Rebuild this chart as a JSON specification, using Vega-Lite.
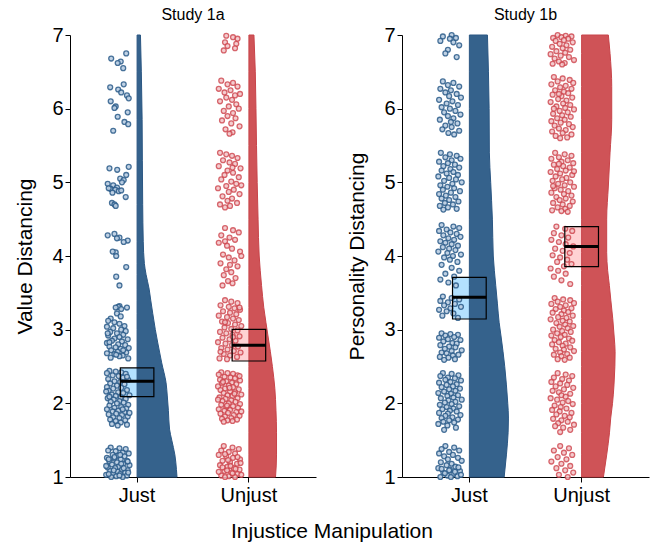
{
"$schema": "https://vega.github.io/schema/vega-lite/v6.json",
"padding": {"left": 14, "top": 7, "right": 2, "bottom": 5},
"background": "white",
"datasets": {
"box": [
{"s":"1a","g":"Just","lo":2.09,"hi":2.48,"m":2.30},
{"s":"1a","g":"Unjust","lo":2.575,"hi":3.005,"m":2.79},
{"s":"1b","g":"Just","lo":3.145,"hi":3.71,"m":3.44},
{"s":"1b","g":"Unjust","lo":3.855,"hi":4.40,"m":4.13}
],
"vio": [
{"s":"1a","g":"Just","v":1.0,"w":0.357},{"s":"1a","g":"Just","v":1.1,"w":0.352},{"s":"1a","g":"Just","v":1.3,"w":0.338},{"s":"1a","g":"Just","v":1.5,"w":0.31},{"s":"1a","g":"Just","v":1.65,"w":0.29},{"s":"1a","g":"Just","v":1.9,"w":0.28},{"s":"1a","g":"Just","v":2.1,"w":0.27},{"s":"1a","g":"Just","v":2.28,"w":0.259},{"s":"1a","g":"Just","v":2.55,"w":0.22},{"s":"1a","g":"Just","v":2.82,"w":0.185},{"s":"1a","g":"Just","v":3.0,"w":0.163},{"s":"1a","g":"Just","v":3.22,"w":0.14},{"s":"1a","g":"Just","v":3.4,"w":0.122},{"s":"1a","g":"Just","v":3.55,"w":0.108},{"s":"1a","g":"Just","v":3.75,"w":0.08},{"s":"1a","g":"Just","v":3.9,"w":0.065},{"s":"1a","g":"Just","v":4.2,"w":0.055},{"s":"1a","g":"Just","v":4.7,"w":0.05},{"s":"1a","g":"Just","v":5.3,"w":0.047},{"s":"1a","g":"Just","v":5.85,"w":0.045},{"s":"1a","g":"Just","v":6.5,"w":0.038},{"s":"1a","g":"Just","v":7.0,"w":0.03},
{"s":"1a","g":"Unjust","v":1.0,"w":0.238},{"s":"1a","g":"Unjust","v":1.3,"w":0.247},{"s":"1a","g":"Unjust","v":1.6,"w":0.247},{"s":"1a","g":"Unjust","v":1.9,"w":0.242},{"s":"1a","g":"Unjust","v":2.2,"w":0.232},{"s":"1a","g":"Unjust","v":2.5,"w":0.21},{"s":"1a","g":"Unjust","v":2.7,"w":0.192},{"s":"1a","g":"Unjust","v":2.9,"w":0.172},{"s":"1a","g":"Unjust","v":3.1,"w":0.152},{"s":"1a","g":"Unjust","v":3.3,"w":0.133},{"s":"1a","g":"Unjust","v":3.6,"w":0.113},{"s":"1a","g":"Unjust","v":4.0,"w":0.092},{"s":"1a","g":"Unjust","v":4.5,"w":0.082},{"s":"1a","g":"Unjust","v":5.0,"w":0.074},{"s":"1a","g":"Unjust","v":5.5,"w":0.068},{"s":"1a","g":"Unjust","v":6.0,"w":0.063},{"s":"1a","g":"Unjust","v":6.5,"w":0.057},{"s":"1a","g":"Unjust","v":7.0,"w":0.045},
{"s":"1b","g":"Just","v":1.0,"w":0.31},{"s":"1b","g":"Just","v":1.3,"w":0.33},{"s":"1b","g":"Just","v":1.6,"w":0.345},{"s":"1b","g":"Just","v":1.8,"w":0.348},{"s":"1b","g":"Just","v":2.0,"w":0.342},{"s":"1b","g":"Just","v":2.25,"w":0.33},{"s":"1b","g":"Just","v":2.5,"w":0.315},{"s":"1b","g":"Just","v":2.7,"w":0.3},{"s":"1b","g":"Just","v":2.9,"w":0.283},{"s":"1b","g":"Just","v":3.1,"w":0.265},{"s":"1b","g":"Just","v":3.35,"w":0.25},{"s":"1b","g":"Just","v":3.6,"w":0.235},{"s":"1b","g":"Just","v":4.0,"w":0.213},{"s":"1b","g":"Just","v":4.5,"w":0.205},{"s":"1b","g":"Just","v":5.0,"w":0.19},{"s":"1b","g":"Just","v":5.4,"w":0.178},{"s":"1b","g":"Just","v":6.0,"w":0.176},{"s":"1b","g":"Just","v":6.5,"w":0.17},{"s":"1b","g":"Just","v":7.0,"w":0.161},
{"s":"1b","g":"Unjust","v":1.0,"w":0.194},{"s":"1b","g":"Unjust","v":1.3,"w":0.223},{"s":"1b","g":"Unjust","v":1.6,"w":0.248},{"s":"1b","g":"Unjust","v":1.8,"w":0.259},{"s":"1b","g":"Unjust","v":2.0,"w":0.275},{"s":"1b","g":"Unjust","v":2.25,"w":0.288},{"s":"1b","g":"Unjust","v":2.5,"w":0.296},{"s":"1b","g":"Unjust","v":2.7,"w":0.298},{"s":"1b","g":"Unjust","v":2.9,"w":0.29},{"s":"1b","g":"Unjust","v":3.15,"w":0.277},{"s":"1b","g":"Unjust","v":3.4,"w":0.26},{"s":"1b","g":"Unjust","v":3.6,"w":0.247},{"s":"1b","g":"Unjust","v":3.8,"w":0.232},{"s":"1b","g":"Unjust","v":4.05,"w":0.223},{"s":"1b","g":"Unjust","v":4.5,"w":0.223},{"s":"1b","g":"Unjust","v":4.95,"w":0.238},{"s":"1b","g":"Unjust","v":5.4,"w":0.253},{"s":"1b","g":"Unjust","v":5.85,"w":0.268},{"s":"1b","g":"Unjust","v":6.3,"w":0.268},{"s":"1b","g":"Unjust","v":6.75,"w":0.253},{"s":"1b","g":"Unjust","v":7.0,"w":0.238}
],
"p1aJ": [
{"v":6.75,"j":0.82},{"v":6.68,"j":0.22},{"v":6.64,"j":0.60},{"v":6.62,"j":0.48},{"v":6.55,"j":0.70},
{"v":6.33,"j":0.72},{"v":6.29,"j":0.18},{"v":6.26,"j":0.50},{"v":6.22,"j":0.62},{"v":6.18,"j":0.85},{"v":6.14,"j":0.92},{"v":6.03,"j":0.40},{"v":6.01,"j":0.35},{"v":5.95,"j":0.88},{"v":5.89,"j":0.48},{"v":5.82,"j":0.75},{"v":5.79,"j":0.90},{"v":5.70,"j":0.30},{"v":6.10,"j":0.20},
{"v":5.19,"j":0.15},{"v":5.17,"j":0.46},{"v":5.21,"j":0.92},{"v":5.10,"j":0.82},{"v":5.05,"j":0.58},{"v":5.03,"j":0.72},{"v":4.98,"j":0.08},{"v":4.96,"j":0.30},{"v":4.93,"j":0.45},{"v":4.91,"j":0.20},{"v":4.90,"j":0.38},{"v":4.88,"j":0.52},{"v":4.86,"j":0.27},{"v":4.89,"j":0.62},{"v":4.80,"j":0.80},{"v":4.72,"j":0.25},{"v":4.70,"j":0.35},{"v":4.68,"j":0.40},{"v":4.92,"j":0.12},{"v":5.00,"j":0.65},
{"v":4.28,"j":0.08},{"v":4.30,"j":0.35},{"v":4.25,"j":0.55},{"v":4.21,"j":0.88},{"v":4.24,"j":0.45},{"v":4.19,"j":0.72},{"v":4.05,"j":0.40},{"v":4.06,"j":0.28},{"v":4.00,"j":0.42},{"v":3.85,"j":0.82},{"v":3.72,"j":0.42},{"v":3.60,"j":0.55},
{"v":3.32,"j":0.55},{"v":3.31,"j":0.50},{"v":3.30,"j":0.40},{"v":3.28,"j":0.62},{"v":3.30,"j":0.85},{"v":3.22,"j":0.45},{"v":3.15,"j":0.20},{"v":3.12,"j":0.10},{"v":3.10,"j":0.35},{"v":3.08,"j":0.55},{"v":3.05,"j":0.75},{"v":3.04,"j":0.05},{"v":3.02,"j":0.30},{"v":3.00,"j":0.62},{"v":2.98,"j":0.80},{"v":2.97,"j":0.18},{"v":2.95,"j":0.45},{"v":2.93,"j":0.70},{"v":2.92,"j":0.10},{"v":2.90,"j":0.55},{"v":2.88,"j":0.35},{"v":2.87,"j":0.88},{"v":2.85,"j":0.25},{"v":2.84,"j":0.65},{"v":2.82,"j":0.05},{"v":2.80,"j":0.50},{"v":2.79,"j":0.78},{"v":2.77,"j":0.15},{"v":2.76,"j":0.40},{"v":2.75,"j":0.92},{"v":2.74,"j":0.60},{"v":2.72,"j":0.22},{"v":2.70,"j":0.48},{"v":2.69,"j":0.82},{"v":2.68,"j":0.05},{"v":2.67,"j":0.35},{"v":2.65,"j":0.68},{"v":2.64,"j":0.55},{"v":2.62,"j":0.20},{"v":2.61,"j":0.90},{"v":2.72,"j":0.70},{"v":2.95,"j":0.08},{"v":3.18,"j":0.60},{"v":2.66,"j":0.42},{"v":2.83,"j":0.15},
{"v":2.44,"j":0.15},{"v":2.43,"j":0.40},{"v":2.42,"j":0.62},{"v":2.41,"j":0.05},{"v":2.40,"j":0.80},{"v":2.38,"j":0.28},{"v":2.37,"j":0.52},{"v":2.35,"j":0.70},{"v":2.33,"j":0.10},{"v":2.32,"j":0.90},{"v":2.30,"j":0.35},{"v":2.29,"j":0.58},{"v":2.27,"j":0.18},{"v":2.26,"j":0.75},{"v":2.24,"j":0.45},{"v":2.22,"j":0.05},{"v":2.21,"j":0.62},{"v":2.20,"j":0.30},{"v":2.18,"j":0.85},{"v":2.17,"j":0.12},{"v":2.15,"j":0.50},{"v":2.14,"j":0.70},{"v":2.12,"j":0.25},{"v":2.11,"j":0.95},{"v":2.10,"j":0.40},{"v":2.08,"j":0.60},{"v":2.07,"j":0.08},{"v":2.06,"j":0.80},{"v":2.05,"j":0.32},{"v":2.03,"j":0.55},{"v":2.02,"j":0.20},{"v":2.01,"j":0.72},{"v":2.00,"j":0.45},{"v":1.98,"j":0.90},{"v":1.97,"j":0.15},{"v":1.95,"j":0.62},{"v":1.94,"j":0.35},{"v":1.93,"j":0.82},{"v":1.92,"j":0.05},{"v":1.90,"j":0.50},{"v":1.89,"j":0.28},{"v":1.88,"j":0.75},{"v":1.86,"j":0.42},{"v":1.85,"j":0.12},{"v":1.84,"j":0.65},{"v":1.82,"j":0.88},{"v":1.81,"j":0.30},{"v":1.80,"j":0.55},{"v":1.78,"j":0.18},{"v":1.77,"j":0.78},{"v":1.76,"j":0.40},{"v":1.74,"j":0.60},{"v":1.72,"j":0.25},{"v":1.71,"j":0.85},{"v":1.70,"j":0.48},{"v":1.92,"j":0.68},{"v":2.36,"j":0.85},{"v":2.16,"j":0.02},{"v":1.87,"j":0.95},{"v":2.09,"j":0.15},
{"v":1.40,"j":0.20},{"v":1.39,"j":0.55},{"v":1.38,"j":0.80},{"v":1.36,"j":0.10},{"v":1.35,"j":0.40},{"v":1.33,"j":0.68},{"v":1.32,"j":0.92},{"v":1.30,"j":0.28},{"v":1.29,"j":0.50},{"v":1.28,"j":0.75},{"v":1.26,"j":0.05},{"v":1.25,"j":0.35},{"v":1.24,"j":0.60},{"v":1.22,"j":0.85},{"v":1.21,"j":0.15},{"v":1.20,"j":0.45},{"v":1.18,"j":0.70},{"v":1.17,"j":0.25},{"v":1.16,"j":0.95},{"v":1.14,"j":0.52},{"v":1.13,"j":0.08},{"v":1.12,"j":0.38},{"v":1.10,"j":0.65},{"v":1.09,"j":0.88},{"v":1.08,"j":0.18},{"v":1.07,"j":0.48},{"v":1.06,"j":0.78},{"v":1.05,"j":0.30},{"v":1.04,"j":0.58},{"v":1.03,"j":0.02},{"v":1.02,"j":0.85},{"v":1.01,"j":0.42},{"v":1.00,"j":0.22},{"v":1.00,"j":0.68},{"v":1.02,"j":0.55},{"v":1.04,"j":0.12},{"v":1.06,"j":0.90},{"v":1.09,"j":0.32},{"v":1.12,"j":0.72},{"v":1.15,"j":0.02},{"v":1.18,"j":0.62},{"v":1.21,"j":0.88},{"v":1.24,"j":0.12},{"v":1.27,"j":0.35},{"v":1.30,"j":0.58}
],
"p1aU": [
{"v":6.99,"j":0.35},{"v":6.97,"j":0.62},{"v":6.95,"j":0.80},{"v":6.90,"j":0.30},{"v":6.88,"j":0.75},{"v":6.85,"j":0.40},{"v":6.82,"j":0.70},{"v":6.79,"j":0.25},
{"v":6.38,"j":0.15},{"v":6.35,"j":0.62},{"v":6.33,"j":0.40},{"v":6.30,"j":0.80},{"v":6.27,"j":0.05},{"v":6.25,"j":0.52},{"v":6.22,"j":0.28},{"v":6.20,"j":0.90},{"v":6.18,"j":0.70},{"v":6.15,"j":0.35},{"v":6.12,"j":0.58},{"v":6.10,"j":0.10},{"v":6.06,"j":0.75},{"v":6.03,"j":0.45},{"v":6.00,"j":0.85},{"v":5.97,"j":0.25},{"v":5.94,"j":0.62},{"v":5.90,"j":0.40},{"v":5.87,"j":0.72},{"v":5.84,"j":0.18},{"v":5.80,"j":0.55},{"v":5.76,"j":0.88},{"v":5.72,"j":0.32},{"v":5.68,"j":0.60},{"v":5.66,"j":0.48},
{"v":5.40,"j":0.10},{"v":5.38,"j":0.35},{"v":5.36,"j":0.58},{"v":5.33,"j":0.80},{"v":5.30,"j":0.22},{"v":5.27,"j":0.48},{"v":5.25,"j":0.70},{"v":5.22,"j":0.05},{"v":5.19,"j":0.92},{"v":5.16,"j":0.40},{"v":5.13,"j":0.62},{"v":5.10,"j":0.28},{"v":5.07,"j":0.85},{"v":5.04,"j":0.15},{"v":5.01,"j":0.55},{"v":4.98,"j":0.75},{"v":4.95,"j":0.35},{"v":4.92,"j":0.02},{"v":4.90,"j":0.65},{"v":4.87,"j":0.45},{"v":4.84,"j":0.88},{"v":4.81,"j":0.20},{"v":4.78,"j":0.58},{"v":4.75,"j":0.40},{"v":4.72,"j":0.78},{"v":4.70,"j":0.10},{"v":4.68,"j":0.50},{"v":4.66,"j":0.30},{"v":4.96,"j":0.95},{"v":5.20,"j":0.60},
{"v":4.38,"j":0.30},{"v":4.35,"j":0.62},{"v":4.32,"j":0.85},{"v":4.28,"j":0.15},{"v":4.25,"j":0.48},{"v":4.22,"j":0.70},{"v":4.18,"j":0.05},{"v":4.14,"j":0.38},{"v":4.10,"j":0.58},{"v":4.06,"j":0.90},{"v":4.02,"j":0.22},{"v":3.98,"j":0.45},{"v":3.94,"j":0.68},{"v":3.90,"j":0.12},{"v":3.86,"j":0.80},{"v":3.82,"j":0.35},{"v":3.78,"j":0.55},{"v":3.74,"j":0.25},{"v":3.70,"j":0.72},{"v":3.66,"j":0.42},{"v":3.63,"j":0.60},{"v":3.60,"j":0.20},{"v":4.00,"j":0.95},{"v":4.20,"j":0.30},{"v":3.88,"j":0.50},
{"v":3.40,"j":0.30},{"v":3.38,"j":0.55},{"v":3.36,"j":0.80},{"v":3.33,"j":0.12},{"v":3.31,"j":0.45},{"v":3.29,"j":0.68},{"v":3.27,"j":0.90},{"v":3.25,"j":0.22},{"v":3.23,"j":0.50},{"v":3.21,"j":0.75},{"v":3.19,"j":0.05},{"v":3.17,"j":0.38},{"v":3.15,"j":0.62},{"v":3.13,"j":0.85},{"v":3.11,"j":0.18},{"v":3.09,"j":0.42},{"v":3.07,"j":0.70},{"v":3.05,"j":0.95},{"v":3.03,"j":0.28},{"v":3.01,"j":0.55},{"v":2.99,"j":0.80},{"v":2.97,"j":0.10},{"v":2.95,"j":0.35},{"v":2.93,"j":0.60},{"v":2.91,"j":0.88},{"v":2.89,"j":0.20},{"v":2.87,"j":0.48},{"v":2.85,"j":0.72},{"v":2.83,"j":0.02},{"v":2.81,"j":0.32},{"v":2.79,"j":0.58},{"v":2.77,"j":0.82},{"v":2.75,"j":0.15},{"v":2.73,"j":0.40},{"v":2.71,"j":0.65},{"v":2.69,"j":0.92},{"v":2.67,"j":0.25},{"v":2.65,"j":0.50},{"v":2.63,"j":0.78},{"v":2.61,"j":0.08},{"v":2.60,"j":0.38},{"v":2.70,"j":0.12},{"v":2.90,"j":0.62},{"v":3.10,"j":0.30},{"v":3.30,"j":0.88},
{"v":2.42,"j":0.15},{"v":2.41,"j":0.40},{"v":2.40,"j":0.62},{"v":2.39,"j":0.05},{"v":2.38,"j":0.80},{"v":2.36,"j":0.28},{"v":2.35,"j":0.52},{"v":2.34,"j":0.70},{"v":2.32,"j":0.10},{"v":2.31,"j":0.90},{"v":2.30,"j":0.35},{"v":2.28,"j":0.58},{"v":2.27,"j":0.18},{"v":2.26,"j":0.75},{"v":2.24,"j":0.45},{"v":2.23,"j":0.02},{"v":2.22,"j":0.62},{"v":2.20,"j":0.30},{"v":2.19,"j":0.85},{"v":2.18,"j":0.12},{"v":2.16,"j":0.50},{"v":2.15,"j":0.70},{"v":2.14,"j":0.25},{"v":2.12,"j":0.95},{"v":2.11,"j":0.40},{"v":2.10,"j":0.60},{"v":2.08,"j":0.08},{"v":2.07,"j":0.80},{"v":2.06,"j":0.32},{"v":2.04,"j":0.55},{"v":2.03,"j":0.20},{"v":2.02,"j":0.72},{"v":2.00,"j":0.45},{"v":1.99,"j":0.90},{"v":1.98,"j":0.15},{"v":1.96,"j":0.62},{"v":1.95,"j":0.35},{"v":1.94,"j":0.82},{"v":1.92,"j":0.05},{"v":1.91,"j":0.50},{"v":1.90,"j":0.28},{"v":1.88,"j":0.75},{"v":1.87,"j":0.42},{"v":1.86,"j":0.12},{"v":1.84,"j":0.65},{"v":1.83,"j":0.88},{"v":1.82,"j":0.30},{"v":1.80,"j":0.55},{"v":1.79,"j":0.18},{"v":1.78,"j":0.78},{"v":1.77,"j":0.40},{"v":1.76,"j":0.60},{"v":1.75,"j":0.25},{"v":2.37,"j":0.88},{"v":2.21,"j":0.48},{"v":2.05,"j":0.02},{"v":1.89,"j":0.95},{"v":2.13,"j":0.68},{"v":2.29,"j":0.22},{"v":1.97,"j":0.38},
{"v":1.42,"j":0.25},{"v":1.40,"j":0.60},{"v":1.38,"j":0.85},{"v":1.36,"j":0.15},{"v":1.34,"j":0.45},{"v":1.32,"j":0.70},{"v":1.30,"j":0.05},{"v":1.28,"j":0.35},{"v":1.26,"j":0.62},{"v":1.24,"j":0.90},{"v":1.22,"j":0.20},{"v":1.20,"j":0.50},{"v":1.18,"j":0.78},{"v":1.16,"j":0.10},{"v":1.14,"j":0.40},{"v":1.12,"j":0.65},{"v":1.10,"j":0.88},{"v":1.08,"j":0.28},{"v":1.06,"j":0.55},{"v":1.04,"j":0.80},{"v":1.02,"j":0.15},{"v":1.01,"j":0.45},{"v":1.00,"j":0.70},{"v":1.00,"j":0.30},{"v":1.03,"j":0.95},{"v":1.05,"j":0.60},{"v":1.07,"j":0.05},{"v":1.09,"j":0.38},{"v":1.11,"j":0.72},{"v":1.13,"j":0.20},{"v":1.15,"j":0.52},{"v":1.19,"j":0.92},{"v":1.23,"j":0.42},{"v":1.27,"j":0.80},{"v":1.31,"j":0.30}
],
"p1bJ": [
{"v":7.00,"j":0.55},{"v":6.98,"j":0.20},{"v":6.96,"j":0.72},{"v":6.95,"j":0.48},{"v":6.92,"j":0.10},{"v":6.90,"j":0.62},{"v":6.86,"j":0.85},{"v":6.80,"j":0.40},{"v":6.75,"j":0.30},{"v":6.70,"j":0.75},
{"v":6.37,"j":0.20},{"v":6.35,"j":0.62},{"v":6.32,"j":0.40},{"v":6.30,"j":0.85},{"v":6.27,"j":0.10},{"v":6.25,"j":0.52},{"v":6.22,"j":0.30},{"v":6.20,"j":0.75},{"v":6.17,"j":0.45},{"v":6.15,"j":0.92},{"v":6.12,"j":0.05},{"v":6.10,"j":0.58},{"v":6.07,"j":0.35},{"v":6.05,"j":0.80},{"v":6.02,"j":0.15},{"v":6.00,"j":0.48},{"v":5.97,"j":0.70},{"v":5.95,"j":0.25},{"v":5.92,"j":0.90},{"v":5.90,"j":0.40},{"v":5.87,"j":0.62},{"v":5.85,"j":0.08},{"v":5.82,"j":0.52},{"v":5.80,"j":0.78},{"v":5.77,"j":0.30},{"v":5.75,"j":0.55},{"v":5.72,"j":0.18},{"v":5.70,"j":0.85},{"v":5.67,"j":0.42},{"v":5.65,"j":0.65},
{"v":5.40,"j":0.12},{"v":5.38,"j":0.48},{"v":5.36,"j":0.75},{"v":5.34,"j":0.30},{"v":5.32,"j":0.90},{"v":5.30,"j":0.55},{"v":5.28,"j":0.05},{"v":5.26,"j":0.40},{"v":5.24,"j":0.68},{"v":5.22,"j":0.22},{"v":5.20,"j":0.85},{"v":5.18,"j":0.50},{"v":5.16,"j":0.15},{"v":5.14,"j":0.62},{"v":5.12,"j":0.35},{"v":5.10,"j":0.80},{"v":5.08,"j":0.02},{"v":5.06,"j":0.45},{"v":5.04,"j":0.72},{"v":5.02,"j":0.25},{"v":5.00,"j":0.95},{"v":4.98,"j":0.58},{"v":4.96,"j":0.10},{"v":4.94,"j":0.38},{"v":4.92,"j":0.65},{"v":4.90,"j":0.20},{"v":4.88,"j":0.88},{"v":4.86,"j":0.52},{"v":4.84,"j":0.05},{"v":4.82,"j":0.32},{"v":4.80,"j":0.70},{"v":4.78,"j":0.15},{"v":4.76,"j":0.45},{"v":4.74,"j":0.82},{"v":4.72,"j":0.28},{"v":4.70,"j":0.60},{"v":4.68,"j":0.08},{"v":4.66,"j":0.40},{"v":4.64,"j":0.75},{"v":4.63,"j":0.22},
{"v":4.42,"j":0.15},{"v":4.40,"j":0.62},{"v":4.38,"j":0.85},{"v":4.36,"j":0.35},{"v":4.34,"j":0.05},{"v":4.32,"j":0.50},{"v":4.30,"j":0.75},{"v":4.28,"j":0.22},{"v":4.26,"j":0.90},{"v":4.24,"j":0.42},{"v":4.22,"j":0.65},{"v":4.20,"j":0.10},{"v":4.18,"j":0.30},{"v":4.16,"j":0.55},{"v":4.14,"j":0.80},{"v":4.12,"j":0.20},{"v":4.10,"j":0.45},{"v":4.08,"j":0.70},{"v":4.06,"j":0.02},{"v":4.04,"j":0.38},{"v":4.02,"j":0.92},{"v":4.00,"j":0.60},{"v":3.98,"j":0.25},{"v":3.95,"j":0.48},{"v":3.92,"j":0.78},
{"v":3.88,"j":0.15},{"v":3.84,"j":0.55},{"v":3.80,"j":0.85},{"v":3.76,"j":0.30},{"v":3.72,"j":0.65},{"v":3.68,"j":0.10},{"v":3.64,"j":0.42},{"v":3.60,"j":0.72},
{"v":3.45,"j":0.20},{"v":3.43,"j":0.55},{"v":3.41,"j":0.85},{"v":3.39,"j":0.10},{"v":3.37,"j":0.40},{"v":3.35,"j":0.68},{"v":3.33,"j":0.25},{"v":3.31,"j":0.92},{"v":3.29,"j":0.50},{"v":3.27,"j":0.05},{"v":3.25,"j":0.35},{"v":3.22,"j":0.62},{"v":3.19,"j":0.18},{"v":3.16,"j":0.80},
{"v":2.95,"j":0.15},{"v":2.94,"j":0.50},{"v":2.93,"j":0.80},{"v":2.92,"j":0.30},{"v":2.90,"j":0.65},{"v":2.89,"j":0.05},{"v":2.87,"j":0.40},{"v":2.86,"j":0.90},{"v":2.84,"j":0.22},{"v":2.82,"j":0.58},{"v":2.81,"j":0.75},{"v":2.79,"j":0.10},{"v":2.77,"j":0.45},{"v":2.76,"j":0.70},{"v":2.74,"j":0.28},{"v":2.72,"j":0.95},{"v":2.71,"j":0.55},{"v":2.69,"j":0.15},{"v":2.68,"j":0.35},{"v":2.66,"j":0.82},{"v":2.65,"j":0.60},{"v":2.63,"j":0.08},{"v":2.62,"j":0.42},{"v":2.60,"j":0.68},{"v":2.59,"j":0.25},
{"v":2.41,"j":0.20},{"v":2.40,"j":0.55},{"v":2.38,"j":0.82},{"v":2.37,"j":0.10},{"v":2.35,"j":0.40},{"v":2.34,"j":0.68},{"v":2.32,"j":0.30},{"v":2.31,"j":0.92},{"v":2.29,"j":0.50},{"v":2.28,"j":0.05},{"v":2.26,"j":0.75},{"v":2.25,"j":0.35},{"v":2.23,"j":0.60},{"v":2.22,"j":0.15},{"v":2.20,"j":0.88},{"v":2.19,"j":0.45},{"v":2.17,"j":0.70},{"v":2.16,"j":0.25},{"v":2.14,"j":0.02},{"v":2.13,"j":0.52},{"v":2.11,"j":0.80},{"v":2.10,"j":0.38},{"v":2.08,"j":0.62},{"v":2.07,"j":0.12},{"v":2.05,"j":0.95},{"v":2.04,"j":0.42},{"v":2.02,"j":0.70},{"v":2.01,"j":0.28},{"v":1.99,"j":0.55},{"v":1.98,"j":0.08},{"v":1.96,"j":0.85},{"v":1.95,"j":0.35},{"v":1.93,"j":0.62},{"v":1.92,"j":0.18},{"v":1.90,"j":0.48},{"v":1.89,"j":0.75},{"v":1.87,"j":0.05},{"v":1.86,"j":0.40},{"v":1.84,"j":0.90},{"v":1.83,"j":0.30},{"v":1.81,"j":0.58},{"v":1.80,"j":0.15},{"v":1.78,"j":0.80},{"v":1.77,"j":0.45},{"v":1.75,"j":0.22},{"v":1.74,"j":0.65},{"v":1.72,"j":0.02},{"v":1.70,"j":0.38},{"v":1.67,"j":0.72},{"v":1.64,"j":0.25},
{"v":1.42,"j":0.30},{"v":1.40,"j":0.65},{"v":1.38,"j":0.15},{"v":1.36,"j":0.85},{"v":1.34,"j":0.45},{"v":1.32,"j":0.05},{"v":1.30,"j":0.60},{"v":1.28,"j":0.25},{"v":1.26,"j":0.80},{"v":1.24,"j":0.40},{"v":1.22,"j":0.95},{"v":1.20,"j":0.12},{"v":1.18,"j":0.55},{"v":1.16,"j":0.35},{"v":1.14,"j":0.70},{"v":1.12,"j":0.02},{"v":1.10,"j":0.48},{"v":1.08,"j":0.88},{"v":1.06,"j":0.22},{"v":1.04,"j":0.62},{"v":1.02,"j":0.38},{"v":1.01,"j":0.78},{"v":1.00,"j":0.10},{"v":1.00,"j":0.52},{"v":1.03,"j":0.92},{"v":1.05,"j":0.28},{"v":1.07,"j":0.68},{"v":1.09,"j":0.45},{"v":1.11,"j":0.15},{"v":1.13,"j":0.82}
],
"p1bU": [
{"v":7.00,"j":0.30},{"v":6.99,"j":0.62},{"v":6.98,"j":0.85},{"v":6.97,"j":0.45},{"v":6.96,"j":0.12},{"v":6.95,"j":0.72},{"v":6.93,"j":0.55},{"v":6.92,"j":0.22},{"v":6.90,"j":0.90},{"v":6.88,"j":0.38},{"v":6.86,"j":0.65},{"v":6.84,"j":0.08},{"v":6.82,"j":0.50},{"v":6.80,"j":0.80},{"v":6.78,"j":0.25},{"v":6.76,"j":0.60},{"v":6.74,"j":0.02},{"v":6.72,"j":0.42},{"v":6.70,"j":0.75},{"v":6.68,"j":0.18},{"v":6.66,"j":0.95},{"v":6.64,"j":0.35},{"v":6.62,"j":0.58},{"v":6.61,"j":0.10},{"v":6.60,"j":0.48},
{"v":6.43,"j":0.15},{"v":6.41,"j":0.50},{"v":6.39,"j":0.78},{"v":6.37,"j":0.30},{"v":6.35,"j":0.92},{"v":6.33,"j":0.05},{"v":6.31,"j":0.62},{"v":6.29,"j":0.40},{"v":6.27,"j":0.85},{"v":6.25,"j":0.20},{"v":6.23,"j":0.55},{"v":6.21,"j":0.72},{"v":6.19,"j":0.10},{"v":6.17,"j":0.45},{"v":6.15,"j":0.88},{"v":6.13,"j":0.32},{"v":6.11,"j":0.65},{"v":6.09,"j":0.02},{"v":6.07,"j":0.52},{"v":6.05,"j":0.80},{"v":6.03,"j":0.25},{"v":6.01,"j":0.60},{"v":5.99,"j":0.95},{"v":5.97,"j":0.38},{"v":5.95,"j":0.70},{"v":5.93,"j":0.12},{"v":5.91,"j":0.48},{"v":5.89,"j":0.82},{"v":5.87,"j":0.28},{"v":5.85,"j":0.58},{"v":5.83,"j":0.05},{"v":5.81,"j":0.42},{"v":5.79,"j":0.75},{"v":5.77,"j":0.18},{"v":5.75,"j":0.90},{"v":5.73,"j":0.35},{"v":5.71,"j":0.62},{"v":5.69,"j":0.08},{"v":5.67,"j":0.50},{"v":5.65,"j":0.85},{"v":5.63,"j":0.22},{"v":5.61,"j":0.68},{"v":5.60,"j":0.40},{"v":6.00,"j":0.15},{"v":6.20,"j":0.35},
{"v":5.40,"j":0.20},{"v":5.38,"j":0.58},{"v":5.36,"j":0.85},{"v":5.34,"j":0.35},{"v":5.32,"j":0.05},{"v":5.30,"j":0.70},{"v":5.28,"j":0.45},{"v":5.26,"j":0.92},{"v":5.24,"j":0.15},{"v":5.22,"j":0.52},{"v":5.20,"j":0.78},{"v":5.18,"j":0.28},{"v":5.16,"j":0.62},{"v":5.14,"j":0.02},{"v":5.12,"j":0.40},{"v":5.10,"j":0.88},{"v":5.08,"j":0.22},{"v":5.06,"j":0.65},{"v":5.04,"j":0.48},{"v":5.02,"j":0.10},{"v":5.00,"j":0.80},{"v":4.98,"j":0.32},{"v":4.96,"j":0.58},{"v":4.94,"j":0.95},{"v":4.92,"j":0.18},{"v":4.90,"j":0.42},{"v":4.88,"j":0.72},{"v":4.86,"j":0.05},{"v":4.84,"j":0.55},{"v":4.82,"j":0.85},{"v":4.80,"j":0.25},{"v":4.78,"j":0.62},{"v":4.76,"j":0.38},{"v":4.74,"j":0.90},{"v":4.72,"j":0.12},{"v":4.70,"j":0.50},{"v":4.68,"j":0.78},{"v":4.66,"j":0.30},{"v":4.64,"j":0.60},{"v":4.62,"j":0.08},{"v":4.61,"j":0.45},{"v":4.60,"j":0.70},{"v":5.15,"j":0.95},{"v":4.95,"j":0.12},{"v":5.25,"j":0.35},
{"v":4.40,"j":0.25},{"v":4.37,"j":0.60},{"v":4.34,"j":0.88},{"v":4.31,"j":0.15},{"v":4.28,"j":0.45},{"v":4.25,"j":0.72},{"v":4.22,"j":0.05},{"v":4.19,"j":0.35},{"v":4.16,"j":0.62},{"v":4.13,"j":0.92},{"v":4.10,"j":0.20},{"v":4.07,"j":0.50},{"v":4.04,"j":0.78},{"v":4.01,"j":0.10},{"v":3.98,"j":0.40},{"v":3.95,"j":0.68},{"v":3.92,"j":0.28},{"v":3.89,"j":0.85},{"v":3.86,"j":0.55},{"v":3.83,"j":0.02},{"v":3.80,"j":0.32},{"v":3.76,"j":0.62},{"v":3.72,"j":0.15},{"v":3.67,"j":0.45},{"v":3.62,"j":0.80},
{"v":3.43,"j":0.18},{"v":3.41,"j":0.52},{"v":3.40,"j":0.80},{"v":3.38,"j":0.30},{"v":3.36,"j":0.95},{"v":3.35,"j":0.05},{"v":3.33,"j":0.62},{"v":3.31,"j":0.40},{"v":3.29,"j":0.85},{"v":3.28,"j":0.22},{"v":3.26,"j":0.55},{"v":3.24,"j":0.72},{"v":3.23,"j":0.10},{"v":3.21,"j":0.45},{"v":3.19,"j":0.90},{"v":3.17,"j":0.32},{"v":3.16,"j":0.65},{"v":3.14,"j":0.02},{"v":3.12,"j":0.50},{"v":3.11,"j":0.78},{"v":3.09,"j":0.25},{"v":3.07,"j":0.60},{"v":3.05,"j":0.92},{"v":3.04,"j":0.38},{"v":3.02,"j":0.70},{"v":3.00,"j":0.12},{"v":2.98,"j":0.48},{"v":2.97,"j":0.82},{"v":2.95,"j":0.28},{"v":2.93,"j":0.58},{"v":2.92,"j":0.05},{"v":2.90,"j":0.42},{"v":2.88,"j":0.75},{"v":2.86,"j":0.18},{"v":2.85,"j":0.88},{"v":2.83,"j":0.35},{"v":2.81,"j":0.62},{"v":2.80,"j":0.08},{"v":2.78,"j":0.50},{"v":2.76,"j":0.80},{"v":2.74,"j":0.22},{"v":2.73,"j":0.55},{"v":2.71,"j":0.95},{"v":2.69,"j":0.40},{"v":2.67,"j":0.68},{"v":2.66,"j":0.15},{"v":2.64,"j":0.45},{"v":2.62,"j":0.78},{"v":2.60,"j":0.30},{"v":2.59,"j":0.58},
{"v":2.41,"j":0.30},{"v":2.39,"j":0.62},{"v":2.37,"j":0.88},{"v":2.35,"j":0.15},{"v":2.33,"j":0.48},{"v":2.31,"j":0.75},{"v":2.29,"j":0.05},{"v":2.27,"j":0.40},{"v":2.25,"j":0.68},{"v":2.23,"j":0.22},{"v":2.21,"j":0.92},{"v":2.19,"j":0.55},{"v":2.17,"j":0.10},{"v":2.15,"j":0.35},{"v":2.13,"j":0.80},{"v":2.11,"j":0.45},{"v":2.09,"j":0.62},{"v":2.07,"j":0.02},{"v":2.05,"j":0.28},{"v":2.03,"j":0.72},{"v":2.01,"j":0.50},{"v":1.99,"j":0.90},{"v":1.97,"j":0.18},{"v":1.95,"j":0.42},{"v":1.93,"j":0.65},{"v":1.91,"j":0.08},{"v":1.89,"j":0.38},{"v":1.87,"j":0.85},{"v":1.85,"j":0.25},{"v":1.83,"j":0.58},{"v":1.81,"j":0.78},{"v":1.79,"j":0.12},{"v":1.77,"j":0.45},{"v":1.75,"j":0.70},{"v":1.73,"j":0.32},{"v":1.71,"j":0.95},{"v":1.69,"j":0.20},{"v":1.67,"j":0.52},{"v":1.64,"j":0.80},{"v":1.61,"j":0.40},
{"v":1.42,"j":0.40},{"v":1.39,"j":0.75},{"v":1.36,"j":0.15},{"v":1.33,"j":0.55},{"v":1.30,"j":0.88},{"v":1.27,"j":0.30},{"v":1.24,"j":0.65},{"v":1.21,"j":0.05},{"v":1.18,"j":0.45},{"v":1.15,"j":0.80},{"v":1.12,"j":0.25},{"v":1.09,"j":0.60},{"v":1.06,"j":0.92},{"v":1.03,"j":0.35},{"v":1.00,"j":0.70}
]
},
"title": {"text": "Injustice Manipulation", "orient": "bottom", "anchor": "middle", "fontSize": 21, "fontWeight": "normal", "offset": 16},
"spacing": 30,
"resolve": {"scale": {"x": "independent", "y": "independent", "xOffset": "independent"}},
"hconcat": [
{
"width": 246, "height": 442,
"title": {"text": "Study 1a", "fontSize": 16, "fontWeight": "normal", "offset": 2},
"resolve": {"scale": {"x": "independent", "xOffset": "independent"}},
"layer": [
{"data": {"name": "box"}, "transform": [{"filter": "datum.s === '1a'"}],
 "mark": {"type": "bar", "width": {"band": 0.3}, "strokeWidth": 0},
 "encoding": {
  "x": {"field": "g", "type": "nominal", "scale": {"type": "band", "domain": ["Just","Unjust"], "paddingInner": 0, "paddingOuter": 0.1}, "axis": null},
  "y": {"field": "lo", "type": "quantitative", "title": "Value Distancing", "scale": {"domain": [1,7], "nice": false, "zero": false}, "axis": {"values": [1,2,3,4,5,6,7]}},
  "y2": {"field": "hi"},
  "fill": {"condition": {"test": "datum.g === 'Just'", "value": "#b3e1ff"}, "value": "#ffd2d3"}}},
{"data": {"name": "p1aJ"},
 "mark": {"type": "point", "filled": true, "size": 24, "fill": "#b9cde2", "stroke": "#33628f", "strokeWidth": 1.3, "opacity": 0.9},
 "encoding": {
  "x": {"datum": "Just", "type": "nominal", "scale": {"type": "band", "domain": ["Just","Unjust"], "paddingInner": 0, "paddingOuter": 0.1}, "axis": {"title": null, "labelAngle": 0}},
  "xOffset": {"field": "j", "type": "quantitative", "scale": {"domain": [-0.98, 3.49]}},
  "y": {"field": "v", "type": "quantitative", "title": "Value Distancing", "scale": {"domain": [1,7], "nice": false, "zero": false}, "axis": {"values": [1,2,3,4,5,6,7]}}}},
{"data": {"name": "p1aU"},
 "mark": {"type": "point", "filled": true, "size": 24, "fill": "#f3c4c7", "stroke": "#d04a52", "strokeWidth": 1.3, "opacity": 0.85},
 "encoding": {
  "x": {"datum": "Unjust", "type": "nominal", "scale": {"type": "band", "domain": ["Just","Unjust"], "paddingInner": 0, "paddingOuter": 0.1}, "axis": null},
  "xOffset": {"field": "j", "type": "quantitative", "scale": {"domain": [-0.98, 3.49]}},
  "y": {"field": "v", "type": "quantitative", "title": "Value Distancing", "scale": {"domain": [1,7], "nice": false, "zero": false}, "axis": {"values": [1,2,3,4,5,6,7]}}}},
{"data": {"name": "vio"}, "transform": [{"filter": "datum.s === '1a' && datum.g === 'Just'"}],
 "mark": {"type": "area", "orient": "horizontal", "interpolate": "monotone", "fill": "#35628c", "stroke": "#2b5783", "strokeWidth": 1},
 "encoding": {
  "y": {"field": "v", "type": "quantitative", "title": "Value Distancing", "scale": {"domain": [1,7], "nice": false, "zero": false}, "axis": {"values": [1,2,3,4,5,6,7]}},
  "x": {"field": "w", "type": "quantitative", "scale": {"domain": [-0.6, 1.6], "nice": false, "zero": false}, "axis": null},
  "x2": {"datum": 0}}},
{"data": {"name": "vio"}, "transform": [{"filter": "datum.s === '1a' && datum.g === 'Unjust'"}],
 "mark": {"type": "area", "orient": "horizontal", "interpolate": "monotone", "fill": "#cf5357", "stroke": "#c8444a", "strokeWidth": 1},
 "encoding": {
  "y": {"field": "v", "type": "quantitative", "title": "Value Distancing", "scale": {"domain": [1,7], "nice": false, "zero": false}, "axis": {"values": [1,2,3,4,5,6,7]}},
  "x": {"field": "w", "type": "quantitative", "scale": {"domain": [-1.6, 0.6], "nice": false, "zero": false}, "axis": null},
  "x2": {"datum": 0}}},
{"data": {"name": "box"}, "transform": [{"filter": "datum.s === '1a'"}],
 "mark": {"type": "bar", "width": {"band": 0.3}, "fillOpacity": 0, "stroke": "black", "strokeWidth": 1.2},
 "encoding": {
  "x": {"field": "g", "type": "nominal", "scale": {"type": "band", "domain": ["Just","Unjust"], "paddingInner": 0, "paddingOuter": 0.1}, "axis": null},
  "y": {"field": "lo", "type": "quantitative", "title": "Value Distancing", "scale": {"domain": [1,7], "nice": false, "zero": false}, "axis": {"values": [1,2,3,4,5,6,7]}},
  "y2": {"field": "hi"}}},
{"data": {"name": "box"}, "transform": [{"filter": "datum.s === '1a'"}],
 "mark": {"type": "tick", "color": "black", "thickness": 3, "size": 34, "orient": "horizontal", "opacity": 1},
 "encoding": {
  "x": {"field": "g", "type": "nominal", "scale": {"type": "band", "domain": ["Just","Unjust"], "paddingInner": 0, "paddingOuter": 0.1}, "axis": null},
  "y": {"field": "m", "type": "quantitative", "title": "Value Distancing", "scale": {"domain": [1,7], "nice": false, "zero": false}, "axis": {"values": [1,2,3,4,5,6,7]}}}}
]
},
{
"width": 247, "height": 442,
"title": {"text": "Study 1b", "fontSize": 16, "fontWeight": "normal", "offset": 2},
"resolve": {"scale": {"x": "independent", "xOffset": "independent"}},
"layer": [
{"data": {"name": "box"}, "transform": [{"filter": "datum.s === '1b'"}],
 "mark": {"type": "bar", "width": {"band": 0.3}, "strokeWidth": 0},
 "encoding": {
  "x": {"field": "g", "type": "nominal", "scale": {"type": "band", "domain": ["Just","Unjust"], "paddingInner": 0, "paddingOuter": 0.1}, "axis": null},
  "y": {"field": "lo", "type": "quantitative", "title": "Personality Distancing", "scale": {"domain": [1,7], "nice": false, "zero": false}, "axis": {"values": [1,2,3,4,5,6,7]}},
  "y2": {"field": "hi"},
  "fill": {"condition": {"test": "datum.g === 'Just'", "value": "#b3e1ff"}, "value": "#ffd2d3"}}},
{"data": {"name": "p1bJ"},
 "mark": {"type": "point", "filled": true, "size": 24, "fill": "#b9cde2", "stroke": "#33628f", "strokeWidth": 1.3, "opacity": 0.9},
 "encoding": {
  "x": {"datum": "Just", "type": "nominal", "scale": {"type": "band", "domain": ["Just","Unjust"], "paddingInner": 0, "paddingOuter": 0.1}, "axis": {"title": null, "labelAngle": 0}},
  "xOffset": {"field": "j", "type": "quantitative", "scale": {"domain": [-0.98, 3.49]}},
  "y": {"field": "v", "type": "quantitative", "title": "Personality Distancing", "scale": {"domain": [1,7], "nice": false, "zero": false}, "axis": {"values": [1,2,3,4,5,6,7]}}}},
{"data": {"name": "p1bU"},
 "mark": {"type": "point", "filled": true, "size": 24, "fill": "#f3c4c7", "stroke": "#d04a52", "strokeWidth": 1.3, "opacity": 0.85},
 "encoding": {
  "x": {"datum": "Unjust", "type": "nominal", "scale": {"type": "band", "domain": ["Just","Unjust"], "paddingInner": 0, "paddingOuter": 0.1}, "axis": null},
  "xOffset": {"field": "j", "type": "quantitative", "scale": {"domain": [-0.98, 3.49]}},
  "y": {"field": "v", "type": "quantitative", "title": "Personality Distancing", "scale": {"domain": [1,7], "nice": false, "zero": false}, "axis": {"values": [1,2,3,4,5,6,7]}}}},
{"data": {"name": "vio"}, "transform": [{"filter": "datum.s === '1b' && datum.g === 'Just'"}],
 "mark": {"type": "area", "orient": "horizontal", "interpolate": "monotone", "fill": "#35628c", "stroke": "#2b5783", "strokeWidth": 1},
 "encoding": {
  "y": {"field": "v", "type": "quantitative", "title": "Personality Distancing", "scale": {"domain": [1,7], "nice": false, "zero": false}, "axis": {"values": [1,2,3,4,5,6,7]}},
  "x": {"field": "w", "type": "quantitative", "scale": {"domain": [-0.6, 1.6], "nice": false, "zero": false}, "axis": null},
  "x2": {"datum": 0}}},
{"data": {"name": "vio"}, "transform": [{"filter": "datum.s === '1b' && datum.g === 'Unjust'"}],
 "mark": {"type": "area", "orient": "horizontal", "interpolate": "monotone", "fill": "#cf5357", "stroke": "#c8444a", "strokeWidth": 1},
 "encoding": {
  "y": {"field": "v", "type": "quantitative", "title": "Personality Distancing", "scale": {"domain": [1,7], "nice": false, "zero": false}, "axis": {"values": [1,2,3,4,5,6,7]}},
  "x": {"field": "w", "type": "quantitative", "scale": {"domain": [-1.6, 0.6], "nice": false, "zero": false}, "axis": null},
  "x2": {"datum": 0}}},
{"data": {"name": "box"}, "transform": [{"filter": "datum.s === '1b'"}],
 "mark": {"type": "bar", "width": {"band": 0.3}, "fillOpacity": 0, "stroke": "black", "strokeWidth": 1.2},
 "encoding": {
  "x": {"field": "g", "type": "nominal", "scale": {"type": "band", "domain": ["Just","Unjust"], "paddingInner": 0, "paddingOuter": 0.1}, "axis": null},
  "y": {"field": "lo", "type": "quantitative", "title": "Personality Distancing", "scale": {"domain": [1,7], "nice": false, "zero": false}, "axis": {"values": [1,2,3,4,5,6,7]}},
  "y2": {"field": "hi"}}},
{"data": {"name": "box"}, "transform": [{"filter": "datum.s === '1b'"}],
 "mark": {"type": "tick", "color": "black", "thickness": 3, "size": 34, "orient": "horizontal", "opacity": 1},
 "encoding": {
  "x": {"field": "g", "type": "nominal", "scale": {"type": "band", "domain": ["Just","Unjust"], "paddingInner": 0, "paddingOuter": 0.1}, "axis": null},
  "y": {"field": "m", "type": "quantitative", "title": "Personality Distancing", "scale": {"domain": [1,7], "nice": false, "zero": false}, "axis": {"values": [1,2,3,4,5,6,7]}}}}
]
}
],
"config": {
 "font": "Liberation Sans",
 "view": {"stroke": null},
 "axis": {"grid": false, "domainColor": "#000000", "domainWidth": 1, "tickColor": "#000000", "tickSize": 5, "tickWidth": 1, "labelColor": "#000000", "labelFontSize": 20, "labelFont": "Liberation Sans", "titleFont": "Liberation Sans", "titleFontSize": 21, "titleFontWeight": "normal", "titleColor": "#000000"},
 "axisY": {"labelPadding": 2, "titlePadding": 16},
 "axisX": {"labelPadding": 3},
 "title": {"fontSize": 16, "fontWeight": "normal", "font": "Liberation Sans", "color": "#000000", "offset": 2}
}
}
